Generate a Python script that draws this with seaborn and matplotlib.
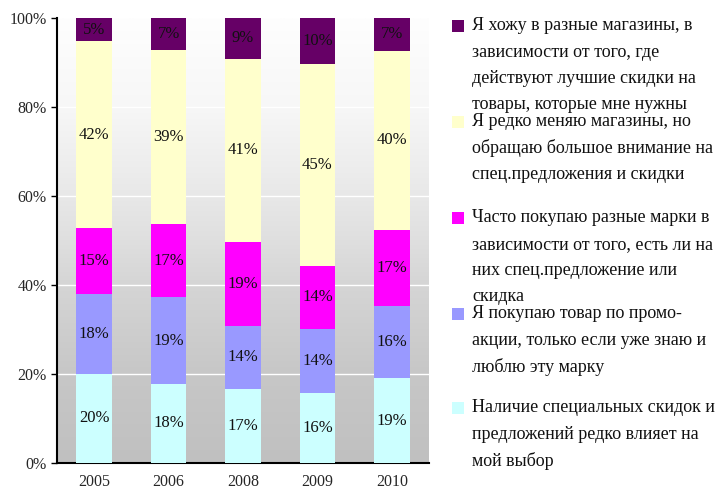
import numpy as np
import pandas as pd
import seaborn as sns
import matplotlib.pyplot as plt
from matplotlib.patches import Rectangle

years = ['2005', '2006', '2008', '2009', '2010']
no_influence = [20.0, 17.8, 16.7, 15.7, 19.1]
promo_known = [18.0, 19.4, 14.1, 14.4, 16.2]
brand_switch = [14.8, 16.6, 18.9, 14.2, 17.1]
rare_switch = [42.0, 38.9, 41.1, 45.3, 40.2]
shop_switch = [5.2, 7.3, 9.2, 10.4, 7.4]

series_labels = [
    ['Наличие специальных скидок и', 'предложений редко влияет на', 'мой выбор'],
    ['Я покупаю товар по промо-', 'акции, только если уже знаю и', 'люблю эту марку'],
    ['Часто покупаю разные марки в', 'зависимости от того, есть ли на',
     'них спец.предложение или', 'скидка'],
    ['Я редко меняю магазины, но', 'обращаю большое внимание на',
     'спец.предложения и скидки'],
    ['Я хожу в разные магазины, в', 'зависимости от того, где',
     'действуют лучшие скидки на', 'товары, которые мне нужны'],
]
colors = ['#CCFFFF', '#9999FF', '#FF00FF', '#FFFFCC', '#660066']

sns.set_style('white')
plt.rcParams['font.family'] = ['Liberation Serif', 'DejaVu Serif']

W, H = 723, 491
fig = plt.figure(figsize=(W / 100, H / 100), dpi=100)
ax = fig.add_axes([57 / W, (H - 463) / H, 372 / W, 445 / H])

df = pd.DataFrame({'year': years, 's0': no_influence, 's1': promo_known,
                   's2': brand_switch, 's3': rare_switch, 's4': shop_switch})
cols = ['s0', 's1', 's2', 's3', 's4']
bottom = np.zeros(len(years))
for col, c in zip(cols, colors):
    sns.barplot(data=df, x='year', y=col, order=years, color=c, width=0.48,
                bottom=bottom, saturation=1, edgecolor='none', linewidth=0,
                ax=ax, zorder=3)
    for i, v in enumerate(df[col]):
        ax.text(i, bottom[i] + v / 2, f'{round(v):.0f}%', ha='center', va='center',
                fontsize=12, color='#111111', zorder=4)
    bottom = bottom + df[col].values

# background gradient
t = np.linspace(0, 1, 300)
g = np.interp(t, [0, 0.2, 0.4, 0.5, 0.6, 0.8, 1.0],
              [192, 199, 213, 223, 232, 247, 254]) / 255
img = np.repeat(g[:, None, None], 3, axis=2)
ax.imshow(img, extent=(-0.5, 4.5, 0, 100), origin='lower', aspect='auto',
          zorder=0, interpolation='bilinear')
ax.set_xlim(-0.5, 4.5)
ax.set_ylim(0, 100)

for yv in [20, 40, 60, 80]:
    ax.axhline(yv, color='white', lw=1, zorder=1)

ax.set_yticks([0, 20, 40, 60, 80, 100])
ax.set_yticklabels([f'{v}%' for v in range(0, 101, 20)], fontsize=11.5)
ax.set_xticks(range(5))
ax.set_xticklabels(years, fontsize=11.5)
ax.set_xticks(np.arange(-0.5, 5, 1), minor=True)
ax.tick_params(axis='x', which='major', length=0, pad=8)
ax.tick_params(axis='x', which='minor', length=4, width=1, direction='out', color='black')
ax.tick_params(axis='y', length=4, width=1, direction='out', color='black', left=True)
ax.set_xlabel('')
ax.set_ylabel('')
for s in ['top', 'right']:
    ax.spines[s].set_visible(False)
for s in ['left', 'bottom']:
    ax.spines[s].set_color('black')
    ax.spines[s].set_linewidth(1.5)

# legend, top entry first
starts = [26, 122, 218, 314, 408]
for lines, c, y0 in zip(series_labels[::-1], colors[::-1], starts):
    fig.add_artist(Rectangle((452 / W, 1 - (y0 + 6) / H), 12 / W, 12 / H,
                             transform=fig.transFigure, color=c, lw=0))
    for k, line in enumerate(lines):
        fig.text(472 / W, 1 - (y0 + 26.3 * k) / H, line, fontsize=13,
                 va='center', ha='left', color='#111111')

fig.savefig('out.png', dpi=100)
